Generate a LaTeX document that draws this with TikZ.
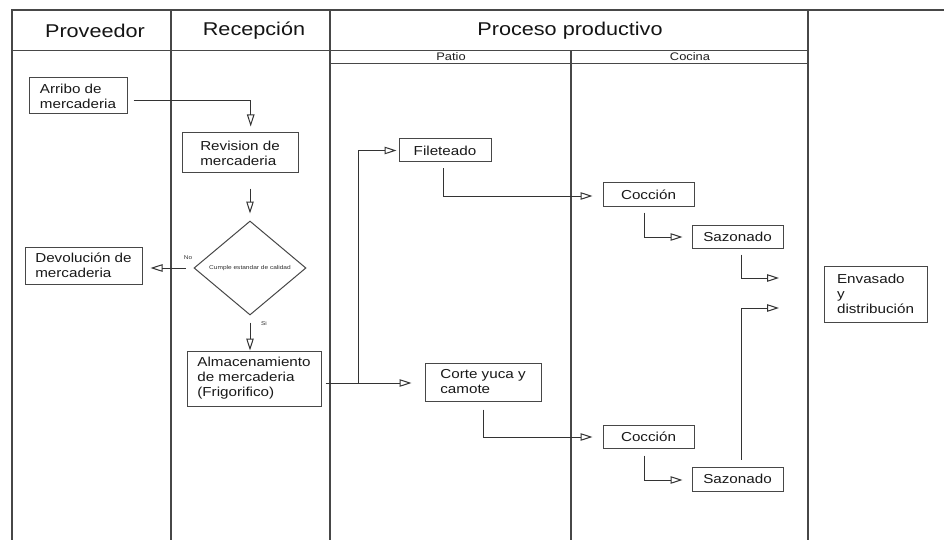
\documentclass[tikz,border=0pt]{standalone}
\usepackage{fontspec}
\setmainfont{Liberation Sans}[FakeStretch=1.17]
\usetikzlibrary{arrows.meta,shapes.geometric}
\begin{document}
\begin{tikzpicture}[x=1pt,y=-1pt,
  lane/.style={draw=black!72, line width=1.2pt},
  box/.style={draw=black!72, line width=1pt, align=left, inner sep=0pt,
    font=\fontsize{13}{15}\selectfont, text=black!90},
  arr/.style={draw=black!80, line width=1pt, -{Triangle[open,length=12pt,width=7.5pt]}},
  head/.style={font=\fontsize{18.5}{20}\selectfont, text=black!92},
  sublbl/.style={font=\fontsize{11}{12}\selectfont, text=black!88},
  tiny/.style={font=\fontsize{5.5}{6}\selectfont, text=black!80}
]
\useasboundingbox (0,0) rectangle (944,540);
\fill[white] (0,0) rectangle (944,540);
% swimlane frame
\draw[lane] (944,10) -- (12,10) -- (12,540);
\draw[lane] (12,50.5) -- (808,50.5);
\draw[lane] (171,10) -- (171,540);
\draw[lane] (330,10) -- (330,540);
\draw[lane] (808,10) -- (808,540);
\draw[lane] (330,63.3) -- (808,63.3);
\draw[lane] (571,50.5) -- (571,540);
% headers
\node[head] (hprov) at (95,30.5) {Proveedor};
\node[head] (hrec) at (254,30.5) {Recepción};
\node[head] (hproc) at (570,30.5) {Proceso productivo};
\node[sublbl] (hpatio) at (451,56.5) {Patio};
\node[sublbl] (hcocina) at (690,56.5) {Cocina};
% nodes
\node[box, minimum width=98pt, minimum height=36pt] (arribo) at (78,96) {Arribo de\\mercaderia};
\node[box, minimum width=116pt, minimum height=40pt] (rev) at (240,153) {Revision de\\mercaderia};
\node[draw=black!72, line width=1pt, diamond, minimum width=112pt, minimum height=94pt,
  inner sep=0pt, font=\fontsize{5.6}{6}\selectfont, text=black!80] (dia) at (250,268) {Cumple estandar de calidad};
\node[box, minimum width=117pt, minimum height=37pt] (dev) at (83.5,265.5) {Devolución de\\mercaderia};
\node[box, minimum width=134pt, minimum height=55pt] (alm) at (254,378.5) {Almacenamiento\\de mercaderia\\(Frigorifico)};
\node[box, minimum width=92pt, minimum height=23pt] (fil) at (445,150.5) {Fileteado};
\node[box, minimum width=116pt, minimum height=38pt] (corte) at (483,382) {Corte yuca y\\camote};
\node[box, minimum width=91pt, minimum height=23pt] (coc1) at (648.5,194.5) {Cocción};
\node[box, minimum width=91pt, minimum height=23pt] (saz1) at (737.5,236.5) {Sazonado};
\node[box, minimum width=91pt, minimum height=23pt] (coc2) at (648.5,436.5) {Cocción};
\node[box, minimum width=91pt, minimum height=24pt] (saz2) at (737.5,479) {Sazonado};
\node[box, minimum width=103pt, minimum height=56pt] (env) at (875.5,294) {Envasado\\y\\distribución};
\node[tiny] (no) at (188,258) {No};
\node[tiny] (si) at (264,324) {Si};
% free ends and junction
\coordinate (e1) at (779,278);
\coordinate (e2) at (779,308);
\coordinate (j) at (358,383);
% connectors
\draw[arr] ([shift={(6,4.7)}]arribo.east) -| ([shift={(10.7,-6)}]rev.north);
\draw[arr] ([shift={(10,15)}]rev.south) -- ([shift={(0,-7)}]dia.north);
\draw[arr] ([shift={(-8,0)}]dia.west) -- ([shift={(8,2.5)}]dev.east);
\draw[arr] ([shift={(0,7)}]dia.south) -- ([shift={(-4,0)}]alm.north);
\draw[arr] ([shift={(4,4.5)}]alm.east) -- ([shift={(-13,1)}]corte.west);
\draw[arr] (j) |- ([shift={(-2,0)}]fil.west);
\draw[arr] ([shift={(-2,6)}]fil.south) |- ([shift={(-10,1.5)}]coc1.west);
\draw[arr] ([shift={(0,8)}]corte.south) |- ([shift={(-10,0.5)}]coc2.west);
\draw[arr] ([shift={(-4.5,6)}]coc1.south) |- ([shift={(-9,0.5)}]saz1.west);
\draw[arr] ([shift={(-4.5,7)}]coc2.south) |- ([shift={(-9,1)}]saz2.west);
\draw[arr] ([shift={(3.5,6)}]saz1.south) |- (e1);
\draw[arr] ([shift={(3.5,-7)}]saz2.north) |- (e2);
\end{tikzpicture}
\end{document}
